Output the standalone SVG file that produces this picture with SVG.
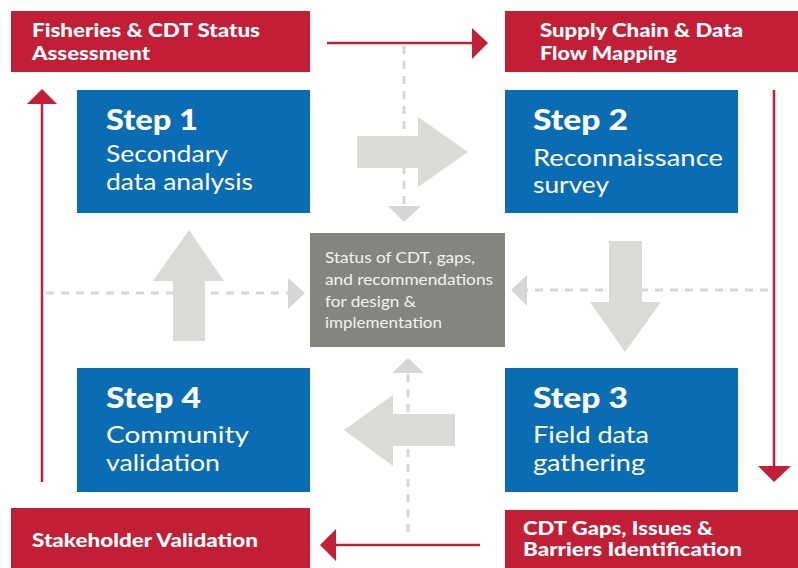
<svg xmlns="http://www.w3.org/2000/svg" width="798" height="568" viewBox="0 0 798 568">
  <style>
    .red { fill: #c21f36; }
    .blue { fill: #0a6db4; }
    .core { fill: #85857f; }
    .block { fill: #d9dbd6; }
    .flow { stroke: #c21f36; stroke-width: 2.5; fill: none; }
    .dash { stroke: #d6d6d4; stroke-width: 3; stroke-dasharray: 8 7; fill: none; }
    .dhead { fill: #d6d6d4; }
    .rlabel { font-family: Lato, "Liberation Sans", sans-serif; font-weight: 900; font-size: 18.5px; fill: #ffffff; }
    .step { font-family: Lato, "Liberation Sans", sans-serif; font-weight: 900; font-size: 28px; fill: #ffffff; }
    .desc { font-family: Lato, "Liberation Sans", sans-serif; font-weight: 400; font-size: 24px; fill: #ffffff; }
    .core-text { font-family: Lato, "Liberation Sans", sans-serif; font-size: 15px; fill: #f2f2f0; }
  </style>
  <rect width="798" height="568" fill="#ffffff"/>

  <!-- connectors: outer red cycle, dashed feeds into the centre, grey block arrows -->
  <g id="connectors">
    <line class="flow" x1="327" y1="43" x2="474" y2="43"/>
    <polygon class="red" points="472,28 488,43 472,59"/>
    <line class="flow" x1="774" y1="90" x2="774" y2="468"/>
    <polygon class="red" points="758,466 791,466 774,482"/>
    <line class="flow" x1="480" y1="545" x2="334" y2="545"/>
    <polygon class="red" points="336,529 320,545 336,561"/>
    <line class="flow" x1="42" y1="482" x2="42" y2="102"/>
    <polygon class="red" points="27,104 42,89 57,104"/>

    <line class="dash" x1="404" y1="46" x2="404" y2="206"/>
    <polygon class="dhead" points="388,206 421,206 404,222"/>
    <line class="dash" x1="408" y1="532" x2="408" y2="373"/>
    <polygon class="dhead" points="392,373 424,373 408,358"/>
    <line class="dash" x1="46" y1="293" x2="288" y2="293"/>
    <polygon class="dhead" points="288,278 305,293 288,309"/>
    <line class="dash" x1="768" y1="290" x2="527" y2="290"/>
    <polygon class="dhead" points="527,275 511,290 527,306"/>

    <polygon class="block" points="357,136 418,136 418,117 468,152 418,187 418,168 357,168"/>
    <polygon class="block" points="609,241 642,241 642,302 661,302 625,352 590,302 609,302"/>
    <polygon class="block" points="173,341 173,281 153,281 189,230 224,281 205,281 205,341"/>
    <polygon class="block" points="455,414 393,414 393,395 344,430 393,466 393,446 455,446"/>
  </g>

  <g id="phase-assessment">
    <rect class="red" x="11" y="11" width="299" height="61"/>
    <text class="rlabel" x="32" y="37" textLength="228" lengthAdjust="spacingAndGlyphs">Fisheries &amp; CDT Status</text>
    <text class="rlabel" x="32" y="60" textLength="118" lengthAdjust="spacingAndGlyphs">Assessment</text>
  </g>
  <g id="phase-mapping">
    <rect class="red" x="505" y="11" width="293" height="61"/>
    <text class="rlabel" x="540" y="37" textLength="203" lengthAdjust="spacingAndGlyphs">Supply Chain &amp; Data</text>
    <text class="rlabel" x="540" y="60" textLength="137" lengthAdjust="spacingAndGlyphs">Flow Mapping</text>
  </g>
  <g id="phase-barriers">
    <rect class="red" x="505" y="510" width="293" height="58"/>
    <text class="rlabel" x="523" y="535" textLength="190" lengthAdjust="spacingAndGlyphs">CDT Gaps, Issues &amp;</text>
    <text class="rlabel" x="523" y="556" textLength="219" lengthAdjust="spacingAndGlyphs">Barriers Identification</text>
  </g>
  <g id="phase-validation">
    <rect class="red" x="11" y="508" width="299" height="60"/>
    <text class="rlabel" x="32" y="547" textLength="226" lengthAdjust="spacingAndGlyphs">Stakeholder Validation</text>
  </g>

  <g id="step1">
    <rect class="blue" x="77" y="90" width="233" height="123"/>
    <text class="step" x="106" y="130" textLength="92" lengthAdjust="spacingAndGlyphs">Step 1</text>
    <text class="desc" x="106" y="162" textLength="122" lengthAdjust="spacingAndGlyphs">Secondary</text>
    <text class="desc" x="106" y="190" textLength="147" lengthAdjust="spacingAndGlyphs">data analysis</text>
  </g>
  <g id="step2">
    <rect class="blue" x="505" y="90" width="233" height="123"/>
    <text class="step" x="533" y="130" textLength="95" lengthAdjust="spacingAndGlyphs">Step 2</text>
    <text class="desc" x="533" y="166" textLength="190" lengthAdjust="spacingAndGlyphs">Reconnaissance</text>
    <text class="desc" x="533" y="193" textLength="76" lengthAdjust="spacingAndGlyphs">survey</text>
  </g>
  <g id="step3">
    <rect class="blue" x="505" y="368" width="233" height="124"/>
    <text class="step" x="533" y="408" textLength="95" lengthAdjust="spacingAndGlyphs">Step 3</text>
    <text class="desc" x="533" y="443" textLength="116" lengthAdjust="spacingAndGlyphs">Field data</text>
    <text class="desc" x="533" y="471" textLength="112" lengthAdjust="spacingAndGlyphs">gathering</text>
  </g>
  <g id="step4">
    <rect class="blue" x="77" y="368" width="233" height="124"/>
    <text class="step" x="106" y="408" textLength="95" lengthAdjust="spacingAndGlyphs">Step 4</text>
    <text class="desc" x="106" y="443" textLength="143" lengthAdjust="spacingAndGlyphs">Community</text>
    <text class="desc" x="106" y="471" textLength="114" lengthAdjust="spacingAndGlyphs">validation</text>
  </g>

  <g id="core">
    <rect class="core" x="310" y="233" width="195" height="114"/>
    <text class="core-text" x="325" y="263" textLength="150" lengthAdjust="spacingAndGlyphs">Status of CDT, gaps,</text>
    <text class="core-text" x="325" y="285" textLength="168" lengthAdjust="spacingAndGlyphs">and recommendations</text>
    <text class="core-text" x="325" y="307" textLength="91" lengthAdjust="spacingAndGlyphs">for design &amp;</text>
    <text class="core-text" x="325" y="328" textLength="117" lengthAdjust="spacingAndGlyphs">implementation</text>
  </g>
</svg>
